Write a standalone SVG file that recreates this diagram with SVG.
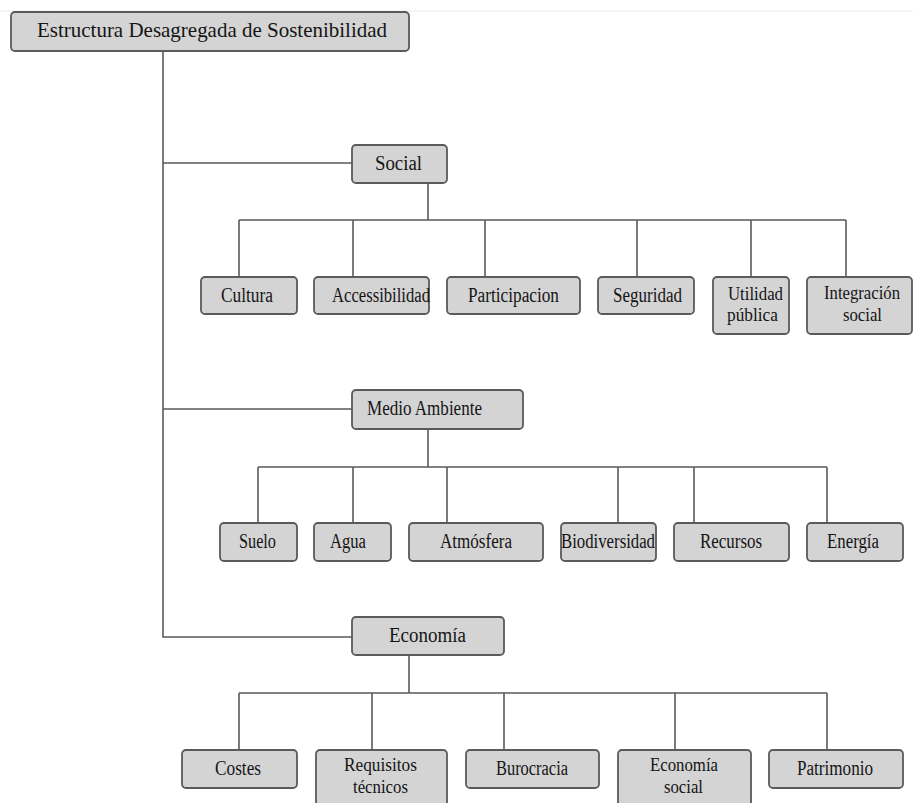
<svg xmlns="http://www.w3.org/2000/svg" width="913" height="803" viewBox="0 0 913 803">
<style>
.box{fill:#d4d4d4;stroke:#5a5a5a;stroke-width:1.8}
.ln{fill:none;stroke:#5a5a5a;stroke-width:1.6}
text{font-family:"Liberation Serif","Times New Roman",serif;font-size:20px;fill:#151515}
.t{font-size:21px}
.s{font-size:18px}
</style>
<rect width="913" height="803" fill="#ffffff"/>
<line x1="0" y1="11" x2="913" y2="11" stroke="#ededed" stroke-width="1"/>
<g id="connectors">
<path class="ln" d="M163 51 V637 H352 M163 163 H352 M163 409 H352"/>
<path class="ln" d="M428 183 V220 M239 220 H846 M239 220 V277 M353 220 V277 M485 220 V277 M637 220 V277 M751 220 V277 M846 220 V277"/>
<path class="ln" d="M428 429 V467 M258 467 H827 M258 467 V523 M353 467 V523 M447 467 V523 M618 467 V523 M694 467 V523 M827 467 V523"/>
<path class="ln" d="M409 655 V693 M239 693 H827 M239 693 V750 M372 693 V750 M504 693 V750 M675 693 V750 M827 693 V750"/>
</g>
<g id="root"><rect class="box" x="11" y="12" width="398" height="39" rx="4"/><text class="t" x="37" y="37" textLength="350" lengthAdjust="spacingAndGlyphs">Estructura Desagregada de Sostenibilidad</text></g>
<g id="social"><rect class="box" x="352" y="145" width="95" height="38" rx="4"/><text x="375" y="170" textLength="47" lengthAdjust="spacingAndGlyphs">Social</text></g>
<g id="cultura"><rect class="box" x="201" y="277" width="96" height="37" rx="4"/><text x="221" y="302" textLength="52" lengthAdjust="spacingAndGlyphs">Cultura</text></g>
<g id="accesibilidad"><rect class="box" x="314" y="277" width="115" height="37" rx="4"/><text x="332" y="302" textLength="98" lengthAdjust="spacingAndGlyphs">Accessibilidad</text></g>
<g id="participacion"><rect class="box" x="447" y="277" width="133" height="37" rx="4"/><text x="468" y="302" textLength="91" lengthAdjust="spacingAndGlyphs">Participacion</text></g>
<g id="seguridad"><rect class="box" x="598" y="277" width="96" height="37" rx="4"/><text x="613" y="302" textLength="69" lengthAdjust="spacingAndGlyphs">Seguridad</text></g>
<g id="utilidad"><rect class="box" x="713" y="277" width="76" height="57" rx="4"/><text class="s" x="728" y="300" textLength="55" lengthAdjust="spacingAndGlyphs">Utilidad</text><text class="s" x="727" y="321" textLength="51" lengthAdjust="spacingAndGlyphs">pública</text></g>
<g id="integracion"><rect class="box" x="807" y="277" width="105" height="57" rx="4"/><text class="s" x="824" y="299" textLength="76" lengthAdjust="spacingAndGlyphs">Integración</text><text class="s" x="843" y="321" textLength="39" lengthAdjust="spacingAndGlyphs">social</text></g>
<g id="medio"><rect class="box" x="352" y="390" width="171" height="39" rx="4"/><text x="367" y="415" textLength="115" lengthAdjust="spacingAndGlyphs">Medio Ambiente</text></g>
<g id="suelo"><rect class="box" x="220" y="523" width="77" height="38" rx="4"/><text x="239" y="548" textLength="37" lengthAdjust="spacingAndGlyphs">Suelo</text></g>
<g id="agua"><rect class="box" x="314" y="523" width="77" height="38" rx="4"/><text x="330" y="548" textLength="36" lengthAdjust="spacingAndGlyphs">Agua</text></g>
<g id="atmosfera"><rect class="box" x="409" y="523" width="134" height="38" rx="4"/><text x="440" y="548" textLength="72" lengthAdjust="spacingAndGlyphs">Atmósfera</text></g>
<g id="biodiversidad"><rect class="box" x="561" y="523" width="95" height="38" rx="4"/><text x="561" y="548" textLength="94" lengthAdjust="spacingAndGlyphs">Biodiversidad</text></g>
<g id="recursos"><rect class="box" x="674" y="523" width="115" height="38" rx="4"/><text x="700" y="548" textLength="62" lengthAdjust="spacingAndGlyphs">Recursos</text></g>
<g id="energia"><rect class="box" x="807" y="523" width="96" height="38" rx="4"/><text x="827" y="548" textLength="52" lengthAdjust="spacingAndGlyphs">Energía</text></g>
<g id="economia"><rect class="box" x="352" y="617" width="152" height="38" rx="4"/><text x="389" y="642" textLength="77" lengthAdjust="spacingAndGlyphs">Economía</text></g>
<g id="costes"><rect class="box" x="182" y="750" width="115" height="38" rx="4"/><text x="215" y="775" textLength="46" lengthAdjust="spacingAndGlyphs">Costes</text></g>
<g id="requisitos"><rect class="box" x="316" y="750" width="131" height="60" rx="4"/><text class="s" x="344" y="771" textLength="73" lengthAdjust="spacingAndGlyphs">Requisitos</text><text class="s" x="353" y="793" textLength="55" lengthAdjust="spacingAndGlyphs">técnicos</text></g>
<g id="burocracia"><rect class="box" x="466" y="750" width="133" height="38" rx="4"/><text x="496" y="775" textLength="72" lengthAdjust="spacingAndGlyphs">Burocracia</text></g>
<g id="economia-social"><rect class="box" x="618" y="750" width="133" height="60" rx="4"/><text class="s" x="650" y="771" textLength="68" lengthAdjust="spacingAndGlyphs">Economía</text><text class="s" x="664" y="793" textLength="39" lengthAdjust="spacingAndGlyphs">social</text></g>
<g id="patrimonio"><rect class="box" x="769" y="750" width="134" height="38" rx="4"/><text x="797" y="775" textLength="76" lengthAdjust="spacingAndGlyphs">Patrimonio</text></g>
</svg>
